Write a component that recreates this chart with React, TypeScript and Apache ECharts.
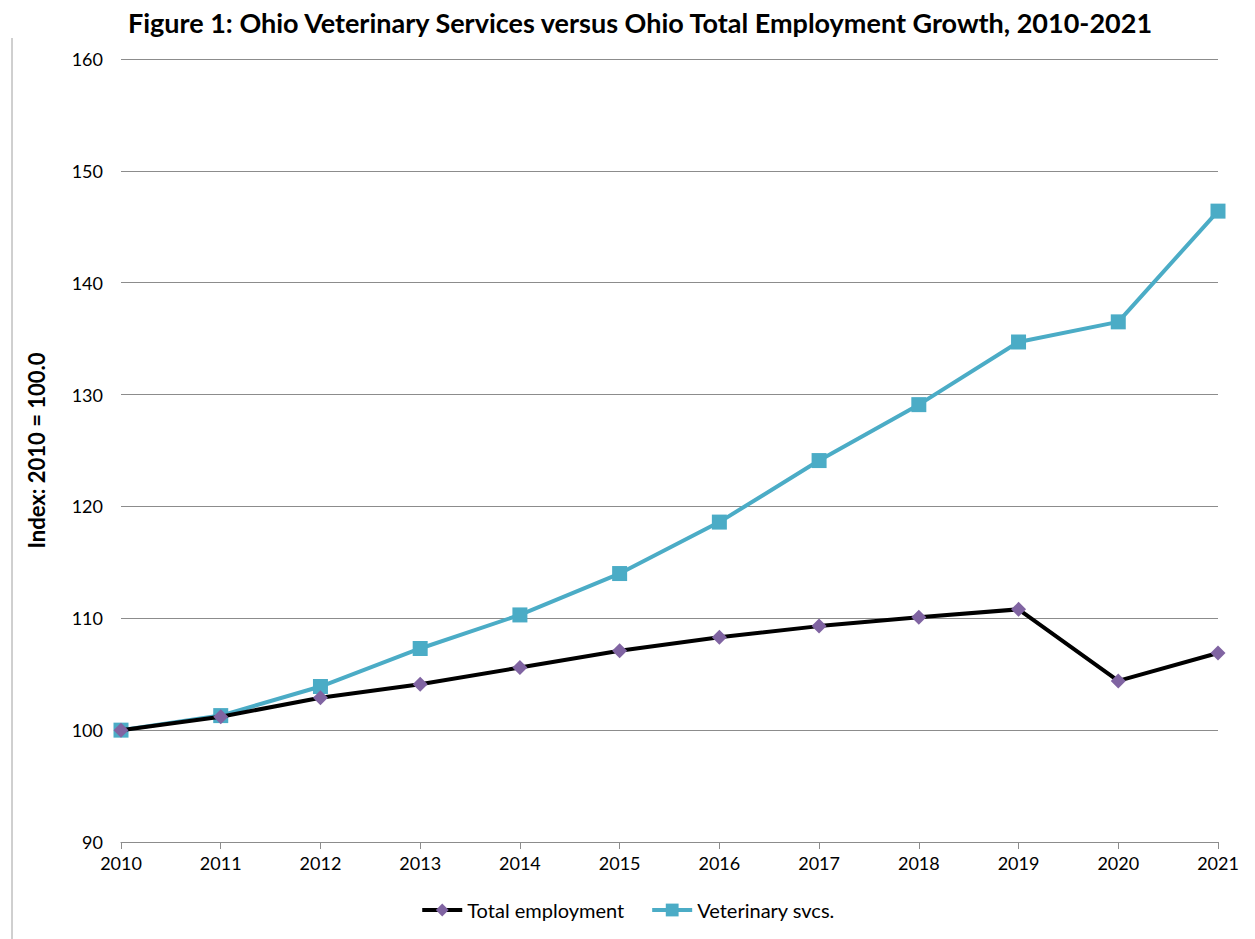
import React, { useEffect, useRef } from "react";
import * as echarts from "echarts";

const years = ["2010", "2011", "2012", "2013", "2014", "2015", "2016", "2017", "2018", "2019", "2020", "2021"];
const totalEmployment = [100, 101.2, 102.9, 104.1, 105.6, 107.1, 108.3, 109.3, 110.1, 110.8, 104.4, 106.9];
const veterinarySvcs = [100, 101.3, 103.9, 107.3, 110.3, 114.0, 118.6, 124.1, 129.1, 134.7, 136.5, 146.4];

const FONT = "Lato, 'Open Sans', sans-serif";

export default function App() {
  const ref = useRef<HTMLDivElement>(null);
  useEffect(() => {
    if (!ref.current) return;
    const chart = echarts.init(ref.current, undefined, { renderer: "svg" });
    chart.setOption({
      animation: false,
      backgroundColor: "#ffffff",
      textStyle: { fontFamily: FONT },
      title: {
        text: "Figure 1: Ohio Veterinary Services versus Ohio Total Employment Growth, 2010-2021",
        left: 635,
        textAlign: "center",
        top: 4,
        textStyle: { fontFamily: FONT, fontSize: 27, fontWeight: "bold", color: "#000" },
      },
      graphic: [
        {
          type: "line",
          shape: { x1: 12, y1: 38, x2: 12, y2: 939 },
          style: { stroke: "#a0a0a0", lineWidth: 1 },
        },
      ],
      grid: { left: 121, right: 37, top: 59, bottom: 97, containLabel: false },
      legend: {
        bottom: 14,
        left: "center",
        itemGap: 26,
        itemWidth: 40,
        itemHeight: 16,
        lineStyle: { width: 4 },
        textStyle: { fontFamily: FONT, fontSize: 20, color: "#000" },
        data: ["Total employment", "Veterinary svcs."],
      },
      xAxis: {
        type: "category",
        data: years,
        boundaryGap: false,
        axisLine: { lineStyle: { color: "#8c8c8c", width: 1 } },
        axisTick: { show: true, alignWithLabel: true, length: 7, lineStyle: { color: "#8c8c8c" } },
        axisLabel: { fontFamily: FONT, fontSize: 18, color: "#000", margin: 12 },
        splitLine: { show: false },
      },
      yAxis: {
        type: "value",
        min: 90,
        max: 160,
        interval: 10,
        name: "Index: 2010 = 100.0",
        nameLocation: "middle",
        nameGap: 74,
        nameTextStyle: { fontFamily: FONT, fontSize: 22, fontWeight: "bold", color: "#000" },
        axisLine: { show: false },
        axisTick: { show: false },
        axisLabel: { fontFamily: FONT, fontSize: 18, color: "#000", margin: 18 },
        splitLine: { lineStyle: { color: "#8c8c8c", width: 1 } },
      },
      series: [
        {
          name: "Total employment",
          type: "line",
          data: totalEmployment,
          symbol: "diamond",
          symbolSize: 15,
          lineStyle: { color: "#000000", width: 4 },
          itemStyle: { color: "#8064a2" },
          z: 3,
        },
        {
          name: "Veterinary svcs.",
          type: "line",
          data: veterinarySvcs,
          symbol: "rect",
          symbolSize: 15,
          lineStyle: { color: "#4bacc6", width: 4 },
          itemStyle: { color: "#4bacc6" },
          z: 2,
        },
      ],
    });
    return () => chart.dispose();
  }, []);
  return <div ref={ref} style={{ position: "fixed", left: 0, top: 0, width: 1255, height: 939 }} />;
}
